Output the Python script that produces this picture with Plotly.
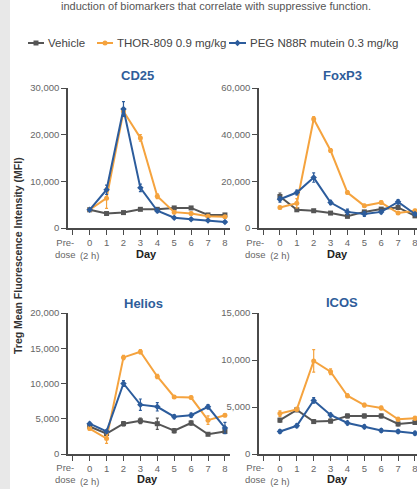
import plotly.graph_objects as go

W, H = 417, 489

# ---------------- data ----------------
days = [0, 1, 2, 3, 4, 5, 6, 7, 8]
tick_vals = [-1, 0, 1, 2, 3, 4, 5, 6, 7, 8]
tick_text = ["", "0<br>(2 h)", "1", "2", "3", "4", "5", "6", "7", "8"]
series_names = ["Vehicle", "THOR-809 0.9 mg/kg", "PEG N88R mutein 0.3 mg/kg"]
panel_titles = ["CD25", "FoxP3", "Helios", "ICOS"]
y_max = [30000, 60000, 20000, 15000]
y_dtick = [10000, 20000, 5000, 5000]

cd25_vehicle = [3900, 3100, 3300, 4000, 4000, 4300, 4300, 2800, 2800]
cd25_thor = [3900, 6400, 25000, 19300, 6800, 3400, 3100, 2500, 2400]
cd25_peg = [3900, 8200, 25500, 8600, 3700, 2200, 1900, 1600, 1300]
cd25_vehicle_err = [300, 200, 200, 200, 200, 300, 300, 200, 200]
cd25_thor_err = [300, 2200, 600, 700, 500, 300, 300, 200, 200]
cd25_peg_err = [300, 1000, 1600, 800, 400, 200, 200, 200, 200]

foxp3_vehicle = [13500, 7800, 7400, 6400, 5000, 6900, 8100, 8800, 5200]
foxp3_thor = [8800, 10600, 46700, 33200, 15200, 9500, 10900, 6400, 7400]
foxp3_peg = [12300, 15200, 21600, 10900, 6900, 6000, 6900, 11200, 6000]
foxp3_vehicle_err = [1500, 600, 500, 500, 600, 500, 600, 600, 500]
foxp3_thor_err = [600, 2000, 1000, 800, 700, 600, 700, 600, 600]
foxp3_peg_err = [1200, 1000, 2000, 900, 1200, 1000, 800, 1000, 600]

helios_vehicle = [3900, 2900, 4300, 4700, 4300, 3300, 4400, 2800, 3200]
helios_thor = [3600, 2200, 13700, 14500, 11000, 8100, 8000, 4800, 5500]
helios_peg = [4300, 3200, 10000, 7000, 6700, 5300, 5500, 6700, 3700]
helios_vehicle_err = [200, 200, 300, 400, 800, 300, 300, 200, 200]
helios_thor_err = [200, 700, 300, 300, 300, 200, 200, 600, 200]
helios_peg_err = [200, 200, 400, 800, 600, 300, 300, 300, 800]

icos_vehicle = [3600, 4700, 3450, 3500, 4050, 4050, 4050, 3200, 3350]
icos_thor = [4300, 4750, 9900, 8750, 6200, 5200, 4900, 3700, 3800]
icos_peg = [2400, 3000, 5700, 4150, 3300, 2900, 2500, 2400, 2200]
icos_vehicle_err = [200, 200, 200, 200, 200, 200, 200, 200, 200]
icos_thor_err = [300, 200, 1200, 300, 200, 200, 200, 200, 200]
icos_peg_err = [200, 200, 300, 200, 200, 200, 200, 200, 200]

panels = [
    (cd25_vehicle, cd25_thor, cd25_peg, cd25_vehicle_err, cd25_thor_err, cd25_peg_err),
    (foxp3_vehicle, foxp3_thor, foxp3_peg, foxp3_vehicle_err, foxp3_thor_err, foxp3_peg_err),
    (helios_vehicle, helios_thor, helios_peg, helios_vehicle_err, helios_thor_err, helios_peg_err),
    (icos_vehicle, icos_thor, icos_peg, icos_vehicle_err, icos_thor_err, icos_peg_err),
]

# ---------------- style ----------------
colors = ["#555555", "#f5a33e", "#2c5c9c"]
symbols = ["square", "circle", "diamond"]
title_color = "#2f5d9a"
axis_color = "#4a4a4a"
tick_font_color = "#666666"
FONT = "Liberation Sans, Arial, sans-serif"


def fx(p):
    return p / W


def fy(p):
    return 1 - p / H


# pixel geometry of the four panels: (x0, x1, ytop, ybottom, xrange)
geo = [
    (68, 230, 88, 228, [-1.28, 8.3]),
    (259, 417, 88, 228, [-1.24, 8.12]),
    (68, 230, 313, 454, [-1.28, 8.3]),
    (259, 417, 313, 454, [-1.24, 8.12]),
]
title_pos = [(137, 75), (342, 75), (143, 303), (342, 302)]
day_pos = [(146, 254), (337, 254), (147, 479), (337, 479)]
predose_dy = [20.5, 20.5, 19.5, 19.5]

fig = go.Figure()
layout = dict()
annotations = []

for i, (vals, g) in enumerate(zip(panels, geo)):
    x0, x1, yt, yb, xr = g
    xa = "x" if i == 0 else f"x{i+1}"
    ya = "y" if i == 0 else f"y{i+1}"
    xkey = "xaxis" if i == 0 else f"xaxis{i+1}"
    ykey = "yaxis" if i == 0 else f"yaxis{i+1}"
    for s in range(3):
        fig.add_trace(go.Scatter(
            x=days, y=vals[s], name=series_names[s], xaxis=xa, yaxis=ya,
            mode="lines+markers", showlegend=False,
            line=dict(color=colors[s], width=2),
            marker=dict(color=colors[s], size=5, symbol=symbols[s]),
            error_y=dict(type="data", array=vals[3 + s], color=colors[s],
                         thickness=1.2, width=1.5),
        ))
    layout[xkey] = dict(
        domain=[fx(x0), fx(x1)], range=xr, anchor=ya,
        showline=True, linecolor=axis_color, linewidth=1.5,
        ticks="outside", ticklen=5, tickwidth=1.2, tickcolor=axis_color,
        tickvals=tick_vals, ticktext=tick_text, ticklabeloverflow="allow",
        tickfont=dict(size=9.5, color=tick_font_color, family=FONT),
        showgrid=False, zeroline=False, automargin=False, fixedrange=True,
    )
    layout[ykey] = dict(
        domain=[fy(yb), fy(yt)], range=[0, y_max[i]], anchor=xa,
        showline=True, linecolor=axis_color, linewidth=1.5,
        ticks="outside", ticklen=5, tickwidth=1.2, tickcolor=axis_color,
        dtick=y_dtick[i], tickformat=",",
        tickfont=dict(size=9.5, color=tick_font_color, family=FONT),
        showgrid=False, zeroline=False, automargin=False, fixedrange=True,
    )
    tx, ty = title_pos[i]
    annotations.append(dict(text=f"<b>{panel_titles[i]}</b>", x=fx(tx), y=fy(ty),
                            xref="paper", yref="paper", showarrow=False,
                            xanchor="center", yanchor="middle",
                            font=dict(size=13, color=title_color, family=FONT)))
    dx, dy = day_pos[i]
    annotations.append(dict(text="<b>Day</b>", x=fx(dx), y=fy(dy),
                            xref="paper", yref="paper", showarrow=False,
                            xanchor="center", yanchor="middle",
                            font=dict(size=11, color="#222222", family=FONT)))
    # "Pre-dose" label sits slightly left of its tick (-1)
    pre_px = x0 + (-1.42 - xr[0]) / (xr[1] - xr[0]) * (x1 - x0)
    annotations.append(dict(text="Pre-<br>dose", x=fx(pre_px), y=fy(yb + predose_dy[i]),
                            xref="paper", yref="paper", showarrow=False,
                            xanchor="center", yanchor="middle",
                            font=dict(size=9.5, color=tick_font_color, family=FONT)))

# y axis title
annotations.append(dict(text="<b>Treg Mean Fluorescence Intensity (MFI)</b>",
                        x=fx(18), y=fy(256), xref="paper", yref="paper",
                        showarrow=False, textangle=-90,
                        xanchor="center", yanchor="middle",
                        font=dict(size=10.5, color="#333333", family=FONT)))

# caption text at the very top
annotations.append(dict(text="induction of biomarkers that correlate with suppressive function.",
                        x=fx(216), y=fy(14), xref="paper", yref="paper",
                        showarrow=False, xanchor="center", yanchor="bottom",
                        font=dict(size=11, color="#555555", family=FONT)))

# manual legend
shapes = [dict(type="rect", xref="paper", yref="paper", x0=0, x1=fx(10), y0=0, y1=1,
               fillcolor="#e8e8e8", line=dict(width=0), layer="below")]
leg_y = 43
leg_items = [(28, 44, 46), (97, 113, 115), (229, 246, 248)]
for s, (lx0, lx1, tx0) in enumerate(leg_items):
    shapes.append(dict(type="line", xref="paper", yref="paper",
                       x0=fx(lx0), x1=fx(lx1), y0=fy(leg_y), y1=fy(leg_y),
                       line=dict(color=colors[s], width=2)))
    cx = (lx0 + lx1) / 2
    if symbols[s] == "square":
        shapes.append(dict(type="rect", xref="paper", yref="paper",
                           x0=fx(cx - 2.5), x1=fx(cx + 2.5), y0=fy(leg_y + 2.5), y1=fy(leg_y - 2.5),
                           fillcolor=colors[s], line=dict(width=0)))
    elif symbols[s] == "circle":
        shapes.append(dict(type="circle", xref="paper", yref="paper",
                           x0=fx(cx - 2.5), x1=fx(cx + 2.5), y0=fy(leg_y + 2.5), y1=fy(leg_y - 2.5),
                           fillcolor=colors[s], line=dict(width=0)))
    else:
        path = (f"M {fx(cx)},{fy(leg_y - 3.2)} L {fx(cx + 3.2)},{fy(leg_y)} "
                f"L {fx(cx)},{fy(leg_y + 3.2)} L {fx(cx - 3.2)},{fy(leg_y)} Z")
        shapes.append(dict(type="path", xref="paper", yref="paper", path=path,
                           fillcolor=colors[s], line=dict(width=0)))
    annotations.append(dict(text=series_names[s], x=fx(tx0), y=fy(leg_y),
                            xref="paper", yref="paper", showarrow=False,
                            xanchor="left", yanchor="middle",
                            font=dict(size=11.5, color="#444444", family=FONT)))

fig.update_layout(
    template="none",
    width=W, height=H,
    margin=dict(l=0, r=0, t=0, b=0, pad=0),
    paper_bgcolor="white", plot_bgcolor="rgba(0,0,0,0)",
    font=dict(family=FONT),
    showlegend=False,
    annotations=annotations,
    shapes=shapes,
    **layout,
)

fig.write_html(
    "out.html",
    config={"displayModeBar": False},
    post_script="document.body.style.margin='0';document.body.style.overflow='hidden';",
)
